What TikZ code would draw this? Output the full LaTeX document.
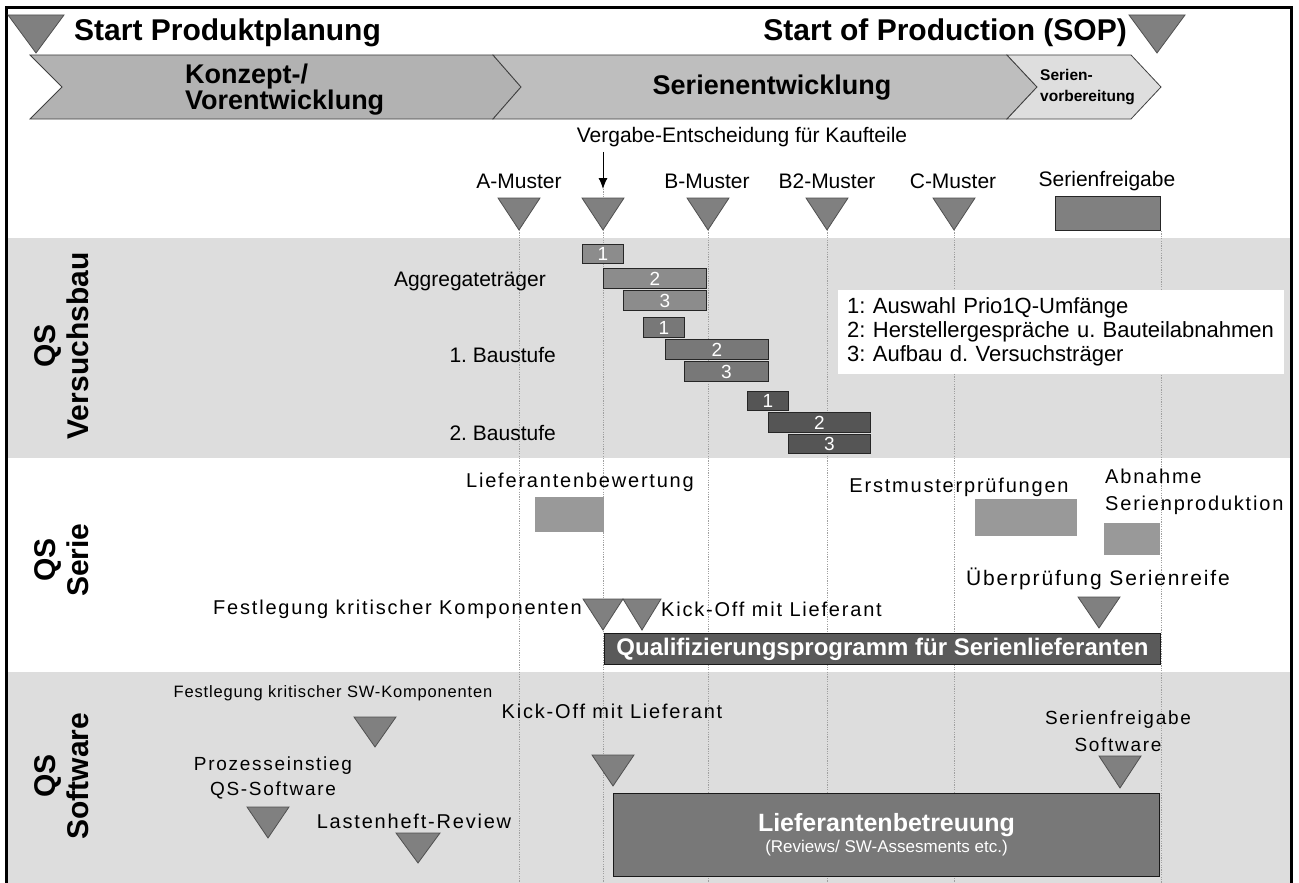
\documentclass[tikz,border=0pt]{standalone}
\usepackage{fontspec}
\setmainfont{Liberation Sans}
\newfontfamily\spacedfont[LetterSpace=9]{Liberation Sans}
\newfontfamily\narrowspaced[LetterSpace=5]{Liberation Sans}
\usetikzlibrary{arrows.meta}
\frenchspacing

\definecolor{band}{HTML}{DDDDDD}
\definecolor{chevA}{HTML}{B2B2B2}
\definecolor{chevB}{HTML}{BEBEBE}
\definecolor{chevC}{HTML}{DEDEDE}
\definecolor{msfill}{HTML}{808080}
\definecolor{msline}{HTML}{505050}
\definecolor{barA}{HTML}{8C8C8C}
\definecolor{barB}{HTML}{787878}
\definecolor{barC}{HTML}{555555}
\definecolor{boxlight}{HTML}{999999}
\definecolor{qualbar}{HTML}{5A5A5A}
\definecolor{betreu}{HTML}{787878}
\definecolor{guide}{HTML}{A0A0A0}

\newcommand\fsz[2]{\fontsize{#1}{#2}\selectfont}
% milestone triangle: name, centre x, top y, half width, height
\newcommand\mstri[5]{%
  \draw[milestone] (#2-#4,#3) -- (#2+#4,#3) -- (#2,#3+#5) -- cycle;
  \coordinate (#1) at (#2,#3+#5);}
% rectangular box node: style, name, x1, y1, x2, y2, text
\newcommand\boxnode[7]{%
  \node[#1, anchor=north west, inner sep=0pt,
        minimum width={(#5-#3)*1pt}, minimum height={(#6-#4)*1pt}] (#2) at (#3,#4) {#7};}

\tikzset{
  milestone/.style={fill=msfill, draw=msline, line width=0.8pt, line join=miter},
  chevron/.style={draw=black!75, line width=0.8pt, line join=miter},
  guide/.style={draw=guide, line width=0.6pt, dash pattern=on 1.2pt off 1.2pt},
  gantt/.style={draw=black!85, line width=1pt, text=white, font=\fsz{19}{20}},
  ganttA/.style={gantt, fill=barA},
  ganttB/.style={gantt, fill=barB},
  ganttC/.style={gantt, fill=barC},
  lightbox/.style={fill=boxlight},
  title/.style={font=\bfseries\fsz{30}{32}, inner sep=0pt},
  phase/.style={font=\bfseries\fsz{27}{26}, inner sep=0pt},
  mlabel/.style={font=\fsz{21}{24}, inner sep=0pt},
  slabel/.style={font=\spacedfont\fsz{20}{27}, inner sep=0pt},
  lane/.style={rotate=90, align=center, font=\bfseries\fsz{30}{33}, inner sep=0pt},
}

\begin{document}
\begin{tikzpicture}[x=1pt, y=-1pt]
\useasboundingbox (0,0) rectangle (1299,883);
\fill[white] (0,0) rectangle (1299,883);

% lane backgrounds
\fill[band] (6,238) rectangle (1292,458);
\fill[band] (6,672) rectangle (1292,883);
\coordinate (base) at (0,883);

% outer frame
\draw[line width=2.5pt, line join=miter] (6.5,883) |- (1291.5,7.5) -- (1291.5,883);

% phase header
\mstri{tPP}{36}{15}{28}{38}
\mstri{tSOP}{1157}{15}{28}{38}
\node[title, anchor=west] (startpp) at (74,33) {Start Produktplanung};
\node[title, anchor=east] (sop) at (1127,33) {Start of Production (SOP)};

\draw[chevron, fill=chevA] (30,55) -- (493,55) -- (521,87) -- (493,119) -- (30,119) -- (62,87) -- cycle;
\draw[chevron, fill=chevB] (493,55) -- (1007,55) -- (1037,87) -- (1007,119) -- (493,119) -- (521,87) -- cycle;
\draw[chevron, fill=chevC] (1007,55) -- (1131,55) -- (1161,87) -- (1131,119) -- (1007,119) -- (1037,87) -- cycle;
\node[phase, anchor=west, align=left] (konzept) at (185,90) {Konzept-/\\Vorentwicklung};
\node[phase] (serienentw) at (772,88) {Serienentwicklung};
\node[anchor=west, align=left, inner sep=0pt, font=\bfseries\fsz{15.5}{21}] (serienvb) at (1040,87) {Serien-\\vorbereitung};

% milestones
\node[mlabel] (vergabe) at (742,137) {Vergabe-Entscheidung für Kaufteile};
\node[mlabel] (lA) at (519,181) {A-Muster};
\node[mlabel] (lB) at (707,181) {B-Muster};
\node[mlabel] (lB2) at (827,181) {B2-Muster};
\node[mlabel] (lC) at (953,181) {C-Muster};
\node[mlabel] (lSF) at (1107,181) {Serienfreigabe};
\mstri{mA}{519}{198}{21}{32}
\mstri{mVg}{603}{198}{21}{32}
\mstri{mB}{708}{198}{21}{32}
\mstri{mB2}{827}{198}{21}{32}
\mstri{mC}{954}{198}{21}{32}
\boxnode{fill=msfill, draw=black!85, line width=1pt}{sfg}{1055}{196}{1160}{230}{}
\coordinate (vgHead) at (603,189);
\draw[-{Latex[length=11pt, width=9pt]}, line width=1pt] (vergabe.south -| vgHead) ++(0,5) -- (vgHead);

% guide lines
\draw[guide] (vgHead) -- (603,198);
\foreach \m in {mA, mVg, mB, mB2, mC} \draw[guide] (\m) -- (\m |- base);
\draw[guide] (sfg.south east) -- (sfg.south east |- base);

% lane titles
\node[lane] (laneV) at (62,346) {QS\\Versuchsbau};
\node[lane] (laneS) at (62,560) {QS\\Serie};
\node[lane] (laneW) at (62,776) {QS\\Software};

% QS Versuchsbau
\node[mlabel, anchor=east] (aggr) at (546,281) {Aggregateträger};
\node[mlabel, anchor=east] (bs1) at (556,355) {1. Baustufe};
\node[mlabel, anchor=east] (bs2) at (556,433) {2. Baustufe};
\boxnode{ganttA}{a1}{582}{244}{623}{263}{1}
\boxnode{ganttA}{a2}{603}{268}{706}{288}{2}
\boxnode{ganttA}{a3}{623}{290}{706}{310}{3}
\boxnode{ganttB}{b1}{643}{317}{684}{337}{1}
\boxnode{ganttB}{b2}{665}{339}{768}{359}{2}
\boxnode{ganttB}{b3}{684}{361}{768}{381}{3}
\boxnode{ganttC}{c1}{747}{391}{788}{410}{1}
\boxnode{ganttC}{c2}{768}{412}{870}{432}{2}
\boxnode{ganttC}{c3}{788}{434}{870}{453}{3}
\node[fill=white, anchor=north west, inner sep=0pt, inner xsep=9pt,
      minimum width=446pt, minimum height=84pt, text width=428pt,
      align=left, font=\fsz{22}{24}] (legend) at (838,290)
  {1: Auswahl Prio1Q-Umfänge\\2: Herstellergespräche u. Bauteilabnahmen\\3: Aufbau d. Versuchsträger};

% QS Serie
\node[slabel] (lbew) at (580,482) {Lieferantenbewertung};
\boxnode{lightbox}{lbewbox}{535}{497}{604}{532}{}
\node[slabel] (erst) at (959,487) {Erstmusterprüfungen};
\boxnode{lightbox}{erstbox}{975}{499}{1077}{536}{}
\node[slabel, anchor=north west, align=left] (abn) at (1105,469) {Abnahme\\Serienproduktion};
\boxnode{lightbox}{abnbox}{1104}{523}{1160}{555}{}
\node[slabel, font=\spacedfont\fsz{21}{24}] (reife) at (1098,579) {Überprüfung Serienreife};
\mstri{mReife}{1099}{597}{21}{31}
\node[slabel, anchor=east] (fkk) at (582,609) {Festlegung kritischer Komponenten};
\mstri{mFkk}{603}{599}{20}{31}
\mstri{mKick}{642}{599}{19}{31}
\node[slabel, anchor=west] (kick) at (661,609) {Kick-Off mit Lieferant};
\boxnode{fill=qualbar, draw=black!90, line width=1pt, text=white, font=\bfseries\fsz{24}{26}}{qual}{604}{633}{1160}{664}{Qualifizierungsprogramm für Serienlieferanten}

% QS Software
\node[inner sep=0pt, font=\narrowspaced\fsz{16.5}{20}] (fksw) at (333,693) {Festlegung kritischer SW-Komponenten};
\mstri{mFksw}{375}{717}{21}{30}
\node[slabel] (kicksw) at (612,711) {Kick-Off mit Lieferant};
\mstri{mKicksw}{613}{755}{21}{31}
\node[slabel, align=center, font=\spacedfont\fsz{19}{25}] (prz) at (273,778) {Prozesseinstieg\\QS-Software};
\mstri{mPrz}{268}{807}{21}{31}
\node[slabel] (lh) at (414,821) {Lastenheft-Review};
\mstri{mLh}{418}{833}{22}{30}
\node[slabel, align=center, font=\spacedfont\fsz{19}{27}] (sfsw) at (1118,731) {Serienfreigabe\\Software};
\mstri{mSfsw}{1120}{756}{21}{32}
\boxnode{fill=betreu, draw=black!90, line width=1pt, text=white, align=center}{betr}{613}{793}{1159}{876}%
  {{\bfseries\fsz{25}{28}Lieferantenbetreuung}\\[2pt]{\fsz{17}{20}(Reviews/ SW-Assesments etc.)}}
\end{tikzpicture}
\end{document}
